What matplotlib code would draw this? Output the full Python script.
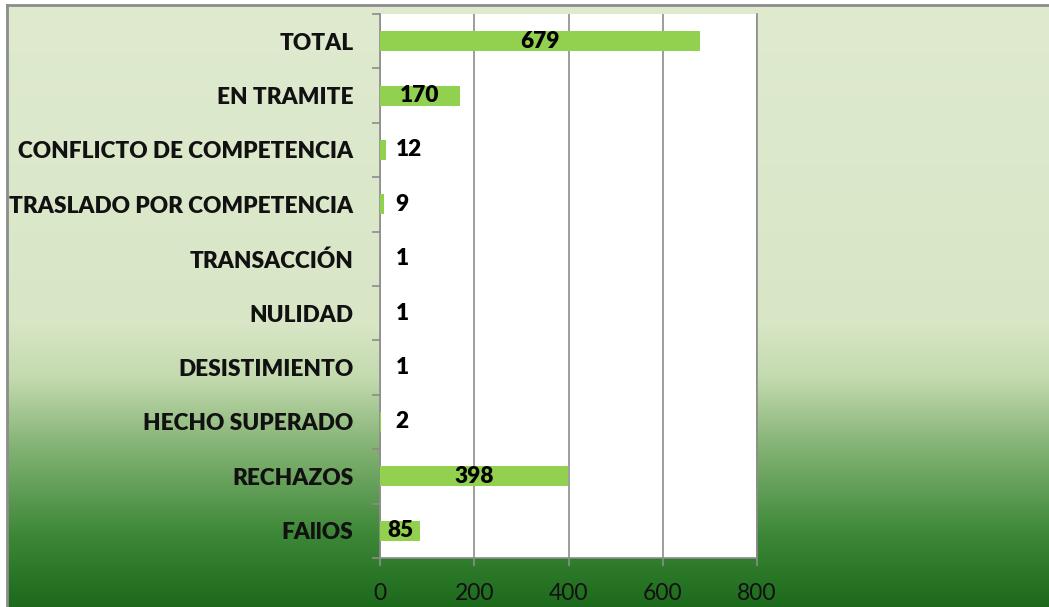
import numpy as np
import matplotlib.pyplot as plt
from matplotlib import font_manager
from matplotlib.colors import LinearSegmentedColormap

# Data (bottom to top, as drawn)
categories = ["FAllOS", "RECHAZOS", "HECHO SUPERADO", "DESISTIMIENTO", "NULIDAD",
              "TRANSACCIÓN", "TRASLADO POR COMPETENCIA", "CONFLICTO DE COMPETENCIA",
              "EN TRAMITE", "TOTAL"]
values = [85, 398, 2, 1, 1, 1, 9, 12, 170, 679]
x_ticks = [0, 200, 400, 600, 800]

names = {f.name for f in font_manager.fontManager.ttflist}
label_font = "Lato" if "Lato" in names else "DejaVu Sans"
tick_font = "Liberation Sans Narrow" if "Liberation Sans Narrow" in names else label_font

W, H = 1049, 607
fig = plt.figure(figsize=(W / 100, H / 100), dpi=100)
fig.patch.set_facecolor("white")

# gradient background of the chart area
bg = fig.add_axes([7 / W, 0, 1 - 7 / W, 1 - 5 / H])
bg.set_axis_off()
cmap = LinearSegmentedColormap.from_list(
    "bg", [(0.0, "#1d6a1c"), (0.12, "#3d8838"), (0.27, "#86b476"),
           (0.38, "#c3daae"), (0.47, "#d8e6c6"), (1.0, "#dfeacf")])
grad = np.linspace(0, 1, 256).reshape(-1, 1)
bg.imshow(grad, aspect="auto", cmap=cmap, origin="lower", extent=[0, 1, 0, 1])
bg.set_xlim(0, 1)
bg.set_ylim(0, 1)
bg.plot([0, 0], [0, 1], color="#8c8c8c", lw=2, clip_on=False)
bg.plot([0, 1], [1, 1], color="#8c8c8c", lw=2, clip_on=False)

ax = fig.add_axes([380 / W, 49 / H, 377 / W, 544 / H])
ax.set_facecolor("white")
y = np.arange(len(categories))
ax.barh(y, values, height=0.37, color="#92d050", zorder=3)

for yi, v in zip(y, values):
    if v >= 50:
        ax.text(v / 2, yi, str(v), ha="center", va="center", fontsize=16.3,
                fontweight="heavy", family=label_font, color="black", zorder=4)
    else:
        ax.text(33, yi, str(v), ha="left", va="center", fontsize=16.3,
                fontweight="heavy", family=label_font, color="black", zorder=4)

ax.set_xlim(0, 800)
ax.set_ylim(-0.5, len(categories) - 0.5)
ax.set_xticks(x_ticks)
ax.set_xticklabels([str(t) for t in x_ticks], family=tick_font, fontsize=16.5, color="#111111")
ax.tick_params(axis="x", length=6, width=1.2, color="#8c8c8c", pad=12)
ax.grid(axis="x", color="#8c8c8c", lw=1.2, zorder=1)

ax.set_yticks(y)
ax.set_yticklabels(categories, family=label_font, fontweight="heavy", fontsize=16.3, color="#111111")
ax.tick_params(axis="y", length=0, pad=19)
ax.set_yticks(np.arange(-0.5, len(categories)), minor=True)
ax.tick_params(axis="y", which="minor", length=6, width=1.2, color="#8c8c8c")

for s in ["top"]:
    ax.spines[s].set_visible(False)
for s in ["left", "bottom", "right"]:
    ax.spines[s].set_color("#8c8c8c")
    ax.spines[s].set_linewidth(1.2)

fig.savefig("out.png", dpi=100)
